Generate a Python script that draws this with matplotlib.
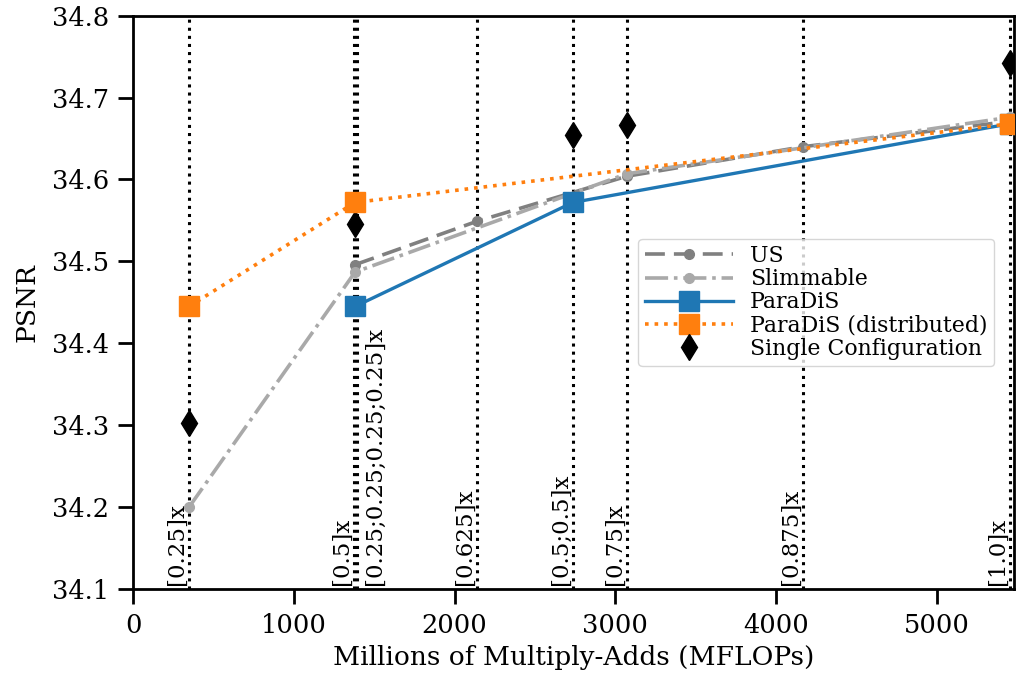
import matplotlib.pyplot as plt

plt.rcParams['font.family'] = ['DejaVu Serif']

# Data
us_x = [1381, 2140, 3072, 4167, 5454]
us_y = [34.496, 34.549, 34.604, 34.640, 34.671]

slim_x = [348, 1381, 3072, 5454]
slim_y = [34.200, 34.487, 34.607, 34.676]

paradis_x = [1381, 2736, 5454]
paradis_y = [34.445, 34.572, 34.668]

dist_x = [348, 1381, 5454]
dist_y = [34.445, 34.572, 34.668]

single_x = [348, 1381, 2736, 3072, 5454]
single_y = [34.303, 34.546, 34.654, 34.667, 34.742]

config_x = [348, 1375, 1390, 2140, 2736, 3072, 4167, 5454]
config_labels = ['[0.25]x', '[0.5]x', '[0.25;0.25;0.25;0.25]x', '[0.625]x',
                 '[0.5;0.5]x', '[0.75]x', '[0.875]x', '[1.0]x']

fig, ax = plt.subplots(figsize=(10.16, 6.81), dpi=100)
fig.subplots_adjust(left=0.131, right=0.998, top=0.977, bottom=0.135)

# Vertical lines for each configuration
for x, label in zip(config_x, config_labels):
    ax.axvline(x, color='black', linestyle=':', linewidth=2.2, zorder=1)
    if label.startswith('[0.25;'):
        ax.text(x + 45, 34.105, label, rotation=90, ha='left', va='bottom', fontsize=16.5)
    else:
        ax.text(x - 8, 34.105, label, rotation=90, ha='right', va='bottom', fontsize=16.5)

ax.plot(us_x, us_y, color='gray', linestyle='--', linewidth=2.6, marker='o',
        markersize=7, label='US', dashes=(5.5, 2.5), zorder=3)
ax.plot(slim_x, slim_y, color='darkgray', linestyle='-.', linewidth=2.6, marker='o',
        markersize=7, label='Slimmable', zorder=3)
ax.plot(paradis_x, paradis_y, color='#1f77b4', linestyle='-', linewidth=2.4, marker='s',
        markersize=14, label='ParaDiS', zorder=4)
ax.plot(dist_x, dist_y, color='#ff7f0e', linestyle=':', linewidth=2.6, marker='s',
        markersize=14, label='ParaDiS (distributed)', zorder=4)
ax.plot(single_x, single_y, color='black', linestyle='none', marker='d',
        markersize=13, label='Single Configuration', zorder=3)

ax.set_xlim(0, 5480)
ax.set_ylim(34.1, 34.8)
ax.set_yticks([34.1, 34.2, 34.3, 34.4, 34.5, 34.6, 34.7, 34.8])
ax.set_xlabel('Millions of Multiply-Adds (MFLOPs)', fontsize=19, labelpad=5)
ax.set_ylabel('PSNR', fontsize=19, labelpad=9)
ax.tick_params(labelsize=18.5, width=2, length=10.5, pad=7)
for spine in ax.spines.values():
    spine.set_linewidth(2)

ax.legend(loc='center right', bbox_to_anchor=(0.99, 0.5), fontsize=15.8,
          handlelength=4, labelspacing=0.05, borderpad=0.3, framealpha=0.8)

plt.savefig('out.png', dpi=100)
